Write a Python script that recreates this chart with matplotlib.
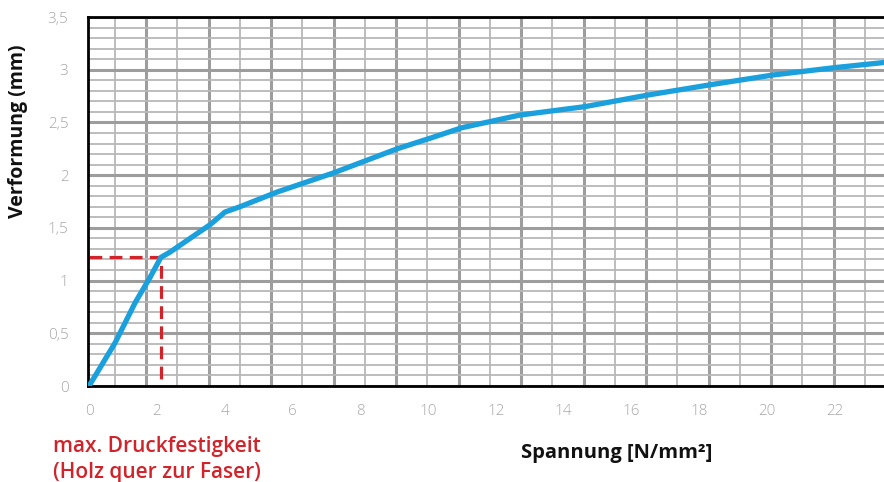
import numpy as np
import matplotlib
matplotlib.use("Agg")
import matplotlib.pyplot as plt
from matplotlib.ticker import MultipleLocator, FuncFormatter

plt.rcParams['font.family'] = ['Open Sans', 'DejaVu Sans']

# load curve: Spannung [N/mm2] vs Verformung [mm]
spannung = [0, 0.77, 1.36, 1.80, 2.12, 2.39, 2.98, 3.57, 4.01, 4.45, 5.55, 7.20,
            9.09, 10.06, 11.00, 12.71, 14.63, 16.49, 18.38, 20.18, 22.0, 23.5]
verformung = [0, 0.41, 0.79, 1.03, 1.22, 1.27, 1.40, 1.53, 1.65, 1.70, 1.84, 2.02,
              2.25, 2.35, 2.45, 2.57, 2.65, 2.76, 2.86, 2.95, 3.02, 3.07]

# max. Druckfestigkeit marker
max_spannung = 2.12
max_verformung = 1.22

x_ticks = [0, 2, 4, 6, 8, 10, 12, 14, 16, 18, 20, 22]
y_ticks = [0, 0.5, 1, 1.5, 2, 2.5, 3, 3.5]

blue = '#1aa0dc'
red = '#d2232a'
grey_txt = '#a8a8a8'

fig = plt.figure(figsize=(8.84, 4.82), dpi=100)
rect = [88 / 884, 96 / 482, 796 / 884, 369 / 482]

# graph paper background
bg = fig.add_axes(rect, zorder=0)
bg.set_xlim(-0.864, 24.61)
bg.set_ylim(0, 3.5)
bg.xaxis.set_major_locator(MultipleLocator(2, offset=1))
bg.xaxis.set_minor_locator(MultipleLocator(1))
bg.yaxis.set_major_locator(MultipleLocator(0.5))
bg.yaxis.set_minor_locator(MultipleLocator(0.1))
bg.grid(which='minor', color='#b8b8b8', lw=1.3)
bg.grid(which='major', color='#9d9d9d', lw=2.2)
bg.tick_params(which='both', length=0, labelbottom=False, labelleft=False)
for s in bg.spines.values():
    s.set_visible(False)

ax = fig.add_axes(rect, zorder=1)
ax.patch.set_alpha(0)
ax.plot(spannung, verformung, color=blue, lw=3.8, solid_joinstyle='round', zorder=3)
ax.plot([0, max_spannung, max_spannung], [max_verformung, max_verformung, 0],
        color=red, lw=2.3, dashes=(4, 2.3), zorder=2, clip_on=False)

ax.set_xlim(-0.03, 23.45)
ax.set_ylim(0, 3.5)
ax.set_xticks(x_ticks)
ax.set_yticks(y_ticks)
ax.yaxis.set_major_formatter(FuncFormatter(lambda v, p: f"{v:g}".replace('.', ',')))
ax.tick_params(length=0, colors=grey_txt, labelsize=11)
ax.tick_params(axis='x', pad=13)
ax.tick_params(axis='y', pad=14)
for lbl in ax.get_xticklabels() + ax.get_yticklabels():
    lbl.set_fontweight('light')
ax.spines['right'].set_visible(False)
for side in ['left', 'bottom', 'top']:
    ax.spines[side].set_color('black')
    ax.spines[side].set_linewidth(2)

fig.text(18 / 884, 1 - 131 / 482, 'Verformung (mm)', rotation=90, ha='center', va='center',
         fontsize=14, fontweight='bold', color='#111111')
fig.text(617 / 884, 1 - 453 / 482, 'Spannung [N/mm²]', ha='center', va='center',
         fontsize=14.5, fontweight='bold', color='#111111')
fig.text(53 / 884, 1 - 459.5 / 482, 'max. Druckfestigkeit\n(Holz quer zur Faser)',
         ha='left', va='center', fontsize=15, fontweight='semibold', color=red, linespacing=1.3)

fig.savefig('out.png', dpi=100)
